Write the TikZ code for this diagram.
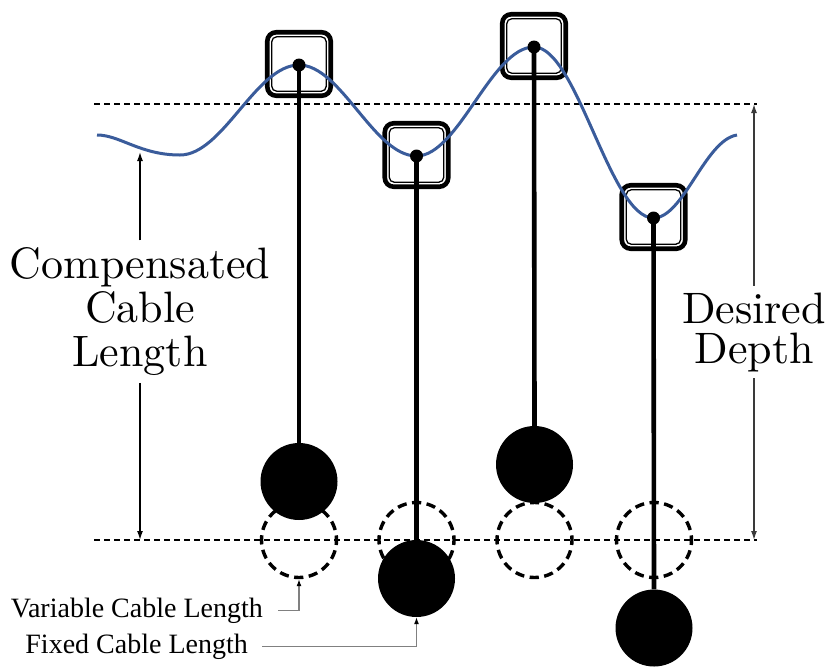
\documentclass[tikz,border=0pt]{standalone}
\usepackage{fontspec}
\newfontfamily\lmten{lmroman10-regular.otf}
\newfontfamily\labelfont{Liberation Serif}
\usetikzlibrary{arrows.meta}
\definecolor{wavecol}{HTML}{3A5C9B}
\definecolor{dimgray}{HTML}{3A3A3A}
\definecolor{calloutgray}{HTML}{808080}
\begin{document}
\begin{tikzpicture}[x=1pt,y=-1pt,
  wave/.style={draw=wavecol, line width=3pt},
  floatout/.style={draw, line width=4.6pt, rounded corners=9pt, minimum size=63.5pt, inner sep=0pt},
  floatin/.style={draw, line width=1.3pt, rounded corners=5pt, minimum size=54.5pt, inner sep=0pt},
  pin/.style={circle, fill, inner sep=0pt, minimum size=13pt},
  cable/.style={line width=4.6pt},
  weight/.style={circle, fill, inner sep=0pt, minimum size=77pt},
  ghost/.style={circle, draw, line width=3.4pt, dash pattern=on 9.2pt off 5.5pt, dash phase=4.6pt, inner sep=0pt, minimum size=75pt},
  guide/.style={line width=1.2pt, dash pattern=on 6pt off 4pt},
  dimline/.style={line width=1.4pt, -{Latex[length=9pt,width=6pt]}},
  callout/.style={draw=calloutgray, line width=1.2pt, -{Latex[length=7pt,width=5pt,color=black]}},
  bigtext/.style={align=center, font=\lmten\fontsize{44}{44}\selectfont},
  smalltext/.style={font=\labelfont\fontsize{28}{32}\selectfont, inner ysep=0pt}
]
\useasboundingbox (0,0) rectangle (829,667);

% surface points where the floats ride
\coordinate (s1) at (299,65);
\coordinate (s2) at (416.5,156);
\coordinate (s3) at (534,47);
\coordinate (s4) at (653.5,218);

% reference levels: surface and desired depth
\coordinate (topL) at (94,104);
\coordinate (topR) at (757,104);
\coordinate (botL) at (94,540);
\coordinate (botR) at (757,540);
\draw[guide] (topL) -- (topR);
\draw[guide] (botL) -- (botR);

% weights held at the desired depth
\node[ghost] (g1) at (299,540) {};
\node[ghost] (g2) at (416.5,540) {};
\node[ghost] (g3) at (534.5,540) {};
\node[ghost] (g4) at (654,540) {};

% floats
\foreach \i in {1,...,4}{
  \node[floatout] (f\i) at ([yshift=1pt]s\i) {};
  \node[floatin] (fi\i) at (f\i) {};
}

% wave surface
\draw[wave] (97,135) .. controls (120,135) and (140,155) .. (180,155)
  .. controls (223,155) and (256,65) .. (s1)
  .. controls (341,65) and (374,156) .. (s2)
  .. controls (458.5,156) and (491.5,47) .. (s3)
  .. controls (577,47) and (610,218) .. (s4)
  .. controls (683.5,218) and (705,140) .. (737,135);

% cable attachment points
\foreach \i in {1,...,4}{
  \node[pin] (p\i) at (s\i) {};
}

% weights on fixed-length cables
\node[weight] (w1) at (299,481.5) {};
\node[weight] (w2) at (416.5,578.5) {};
\node[weight] (w3) at (534.5,464.5) {};
\node[weight] (w4) at (654,628) {};
\foreach \i in {1,...,4}{
  \draw[cable] (p\i.center) -- (w\i.north);
}

% compensated cable length
\coordinate (ctop) at (140,152);
\coordinate (cbot) at (140,540);
\node[bigtext, inner xsep=4pt, inner ysep=7pt] (comp) at (140,311.5) {Compensated\\Cable\\Length};
\draw[dimline] (comp.north) -- (ctop);
\draw[dimline] (comp.south) -- (cbot);

% desired depth
\coordinate (dtop) at (754,104);
\coordinate (dbot) at (754,540);
\node[bigtext, font=\lmten\fontsize{44}{40}\selectfont, inner xsep=4pt, inner ysep=6.5pt] (depth) at (754,332) {Desired\\Depth};
\draw[dimline, draw=dimgray] (depth.north) -- (dtop);
\draw[dimline, draw=dimgray] (depth.south) -- (dbot);

% callouts
\node[smalltext, inner xsep=15pt, anchor=base east] (var) at (278,617) {Variable Cable Length};
\node[smalltext, inner xsep=14pt, anchor=base east] (fix) at (262,653) {Fixed Cable Length};
\draw[callout] (var.east) -| (g1.south);
\draw[callout] (fix.east) -| (w2.south);
\end{tikzpicture}
\end{document}
